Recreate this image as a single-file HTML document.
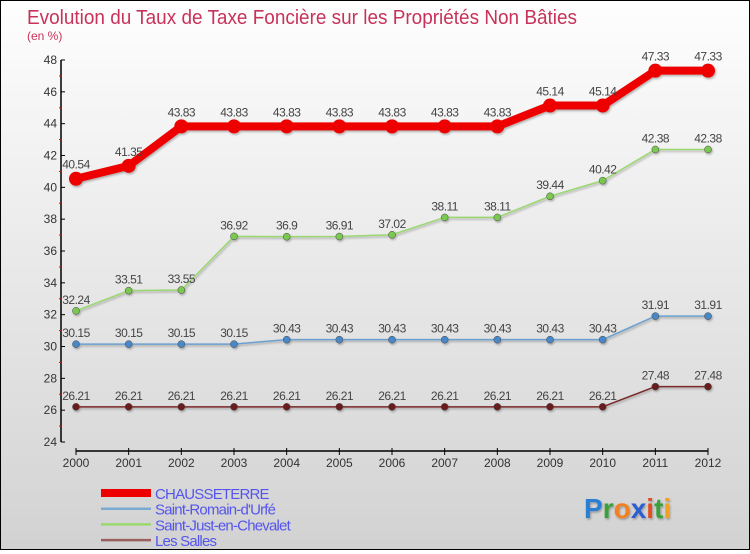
<!DOCTYPE html>
<html><head><meta charset="utf-8">
<style>
html,body{margin:0;padding:0}
body{width:750px;height:550px;overflow:hidden;font-family:"Liberation Sans",sans-serif}
#c{position:absolute;left:0;top:0;width:748px;height:548px;border:1px solid #000;background:linear-gradient(#fefefe,#d2d2d2)}
</style></head><body>
<div id="c">
<svg id="s" width="748" height="548" xmlns="http://www.w3.org/2000/svg">
<defs><filter id="sh" x="-20%" y="-20%" width="140%" height="140%"><feDropShadow dx="1" dy="1.5" stdDeviation="1" flood-color="#000" flood-opacity="0.3"/></filter></defs>
<text x="26" y="23" font-size="20" fill="#c8325a" textLength="550" lengthAdjust="spacingAndGlyphs">Evolution du Taux de Taxe Foncière sur les Propriétés Non Bâties</text>
<text x="26" y="39" font-size="12" fill="#c8325a">(en %)</text>
<g id="axes"></g>
<g id="series"></g>
<g id="legend"></g>
<text x="583" y="517" font-size="28" font-weight="bold" filter="url(#sh)"><tspan fill="#2a7fd4">P</tspan><tspan fill="#3aa03a">r</tspan><tspan fill="#f08020">o</tspan><tspan fill="#2a5fd4">x</tspan><tspan fill="#e05020">i</tspan><tspan fill="#3aa03a">t</tspan><tspan fill="#f0a020">i</tspan></text>
</svg>
</div>
<script>
const years=[2000,2001,2002,2003,2004,2005,2006,2007,2008,2009,2010,2011,2012];
const yTicks=[24,26,28,30,32,34,36,38,40,42,44,46,48];
const chausseterre=[40.54,41.35,43.83,43.83,43.83,43.83,43.83,43.83,43.83,45.14,45.14,47.33,47.33];
const saintRomain=[30.15,30.15,30.15,30.15,30.43,30.43,30.43,30.43,30.43,30.43,30.43,31.91,31.91];
const saintJust=[32.24,33.51,33.55,36.92,36.9,36.91,37.02,38.11,38.11,39.44,40.42,42.38,42.38];
const lesSalles=[26.21,26.21,26.21,26.21,26.21,26.21,26.21,26.21,26.21,26.21,26.21,27.48,27.48];
const seriesNames=["CHAUSSETERRE","Saint-Romain-d'Urfé","Saint-Just-en-Chevalet","Les Salles"];
const NS="http://www.w3.org/2000/svg";
const X=i=>75+i*(707-75)/(years.length-1);
const Y=v=>441-(v-24)*(441-59)/24;
function mk(t,a,p){const e=document.createElementNS(NS,t);for(const k in a)e.setAttribute(k,a[k]);p.appendChild(e);return e;}
const ax=document.getElementById('axes');
const yAxis=mk('line',{x1:60,y1:59,x2:60,y2:441,stroke:'#000','stroke-width':1.5},ax);


yTicks.forEach(v=>{
 mk('line',{x1:60,x2:64,y1:Y(v),y2:Y(v),stroke:'#000'},ax);
 if(v<48) mk('line',{x1:58,x2:61,y1:Y(v+1),y2:Y(v+1),stroke:'#e00'},ax);
 const t=mk('text',{x:56,y:Y(v)+4,'font-size':12,fill:'#333','text-anchor':'end'},ax);t.textContent=v;
 
 
});
const xAxis=mk('line',{x1:75,y1:450,x2:707,y2:450,stroke:'#000','stroke-width':1.5},ax);


years.forEach((y,i)=>{
 mk('line',{x1:X(i),x2:X(i),y1:447,y2:454,stroke:'#000'},ax);
 const t=mk('text',{x:X(i),y:466,'font-size':12,fill:'#333','text-anchor':'middle'},ax);t.textContent=y;
 
 
});
const sg=document.getElementById('series');
const defs=[[lesSalles,'#7a2a2a','#6a1a1a',1.5,3.5],[saintRomain,'#6aa0d0','#4a88c8',1.5,3.5],[saintJust,'#9ad870','#7ac850',1.5,3.5],[chausseterre,'#ee0000','#ee0000',8,7]];
const names=['les-salles','saint-romain','saint-just','chausseterre'];
defs.forEach((d,k)=>{
 const g=mk('g',{filter:'url(#sh)'},sg);
 
 
 const pts=d[0].map((v,i)=>X(i)+','+Y(v)).join(' ');
 const pl=mk('polyline',{points:pts,fill:'none',stroke:d[1],'stroke-width':d[3],'stroke-linejoin':'round'},g);
 
 
 d[0].forEach((v,i)=>{
  const c=mk('circle',{cx:X(i),cy:Y(v),r:d[4],fill:d[2],stroke:k==3?'none':'#444','stroke-width':0.5},g);
  
  
 });
 d[0].forEach((v,i)=>{
  const t=mk('text',{x:X(i),y:Y(v)-(k==3?10:7),'font-size':12,fill:'#444','text-anchor':'middle','letter-spacing':'-0.5'},sg);
  t.textContent=v;
  
  
 });
});
const lg=document.getElementById('legend');
const lc=[['#ee0000',8],['#7aaad0',2.5],['#9ad870',2.5],['#9a6060',2.5]];
seriesNames.forEach((n,i)=>{
 const y=492+i*15.7;
 const l=mk('line',{x1:100,x2:150,y1:y,y2:y,stroke:lc[i][0],'stroke-width':lc[i][1]},lg);
 
 
 const t=mk('text',{x:154,y:y+6,'font-size':15,fill:'#5555ee','letter-spacing':'-0.8'},lg);
 t.textContent=n;
 
 
});
</script>
</body></html>
